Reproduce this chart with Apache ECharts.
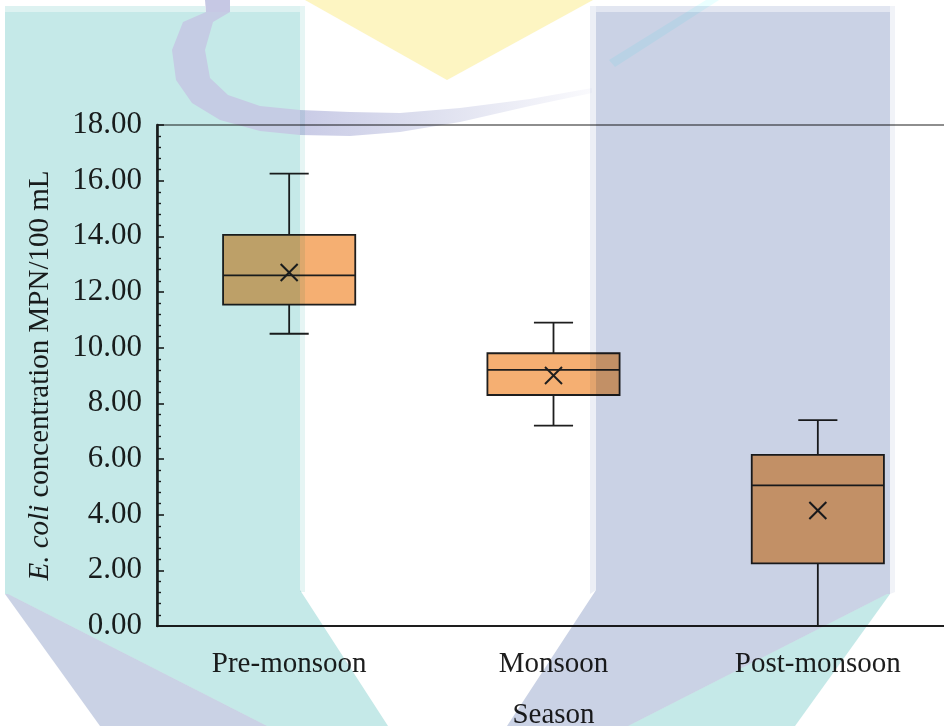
<!DOCTYPE html>
<html>
<head>
<meta charset="utf-8">
<script src="https://cdn.jsdelivr.net/npm/echarts@6/dist/echarts.min.js"></script>
<style>
  html, body { margin: 0; padding: 0; background: #ffffff; }
  #chart { width: 944px; height: 726px; }
</style>
</head>
<body>
<div id="chart"></div>
<script>
// Seasonal E. coli concentration (MPN/100 mL) — box summary per season
const seasons     = ['Pre-monsoon', 'Monsoon', 'Post-monsoon'];
const whiskerLow  = [10.5, 7.2, 0.0];
const q1          = [11.55, 8.3, 2.25];
const median      = [12.6, 9.2, 5.05];
const q3          = [14.05, 9.8, 6.15];
const whiskerHigh = [16.25, 10.9, 7.4];
const mean        = [12.7, 9.0, 4.15];

// value axis range and step for the tick labels (0.00 … 18.00)
const yMin = 0;
const yMax = 18;
const yStep = 2;

const INK = '#1e1e1e';
const FONT = '"Liberation Serif", "Times New Roman", serif';

const boxData = seasons.map((s, i) => [i, whiskerLow[i], q1[i], median[i], q3[i], whiskerHigh[i], mean[i]]);

function renderBox(params, api) {
  const idx = api.value(0);
  const band = api.size([1, 0])[0];
  const halfBox = band * 0.25;
  const halfCap = band * 0.074;
  const pt = k => api.coord([idx, api.value(k)]);
  const x = pt(1)[0];
  const yLo = pt(1)[1], yQ1 = pt(2)[1], yMed = pt(3)[1], yQ3 = pt(4)[1], yHi = pt(5)[1], yMean = pt(6)[1];
  const line = (x1, y1, x2, y2, w) => ({
    type: 'line',
    shape: { x1, y1, x2, y2 },
    style: { stroke: INK, lineWidth: w || 1.8 }
  });
  const m = 8.5;
  return {
    type: 'group',
    children: [
      line(x, yQ3, x, yHi),
      line(x - halfCap, yHi, x + halfCap, yHi),
      line(x, yQ1, x, yLo),
      line(x - halfCap, yLo, x + halfCap, yLo),
      {
        type: 'rect',
        shape: { x: x - halfBox, y: yQ3, width: halfBox * 2, height: yQ1 - yQ3 },
        style: { fill: '#F5AF72', stroke: INK, lineWidth: 1.8 }
      },
      line(x - halfBox, yMed, x + halfBox, yMed),
      line(x - m, yMean - m, x + m, yMean + m, 2),
      line(x - m, yMean + m, x + m, yMean - m, 2)
    ]
  };
}

// faint background emblem, laid over the plot with a multiply blend
const TEAL = '#C5E9E8';
const LAV = '#CAD2E5';
const YEL = '#FDF5C2';
function poly(points, fill) {
  return { type: 'polygon', z: 100, silent: true, shape: { points }, style: { fill, blend: 'multiply' } };
}
const emblem = [
  // left teal pillar with its slanted foot
  poly([[5, 12], [300, 12], [300, 590], [388, 726], [267, 726], [8, 594], [5, 594]], TEAL),
  poly([[5, 6], [205, 6], [206, 12], [5, 12]], '#DDF2F1'),
  poly([[230, 6], [300, 6], [300, 12], [230, 12]], '#DDF2F1'),
  poly([[300, 6], [305, 6], [305, 592], [300, 592]], '#E6F5F4'),
  // left lavender wedge
  poly([[5, 594], [8, 594], [267, 726], [100, 726]], LAV),
  // right lavender pillar with its slanted foot
  poly([[596, 12], [890, 12], [890, 594], [887, 594], [628, 726], [507, 726], [596, 590]], LAV),
  poly([[596, 6], [890, 6], [890, 12], [596, 12]], '#E2E6F1'),
  poly([[590, 6], [596, 6], [596, 590], [590, 594]], '#ECEFF6'),
  poly([[890, 6], [895, 6], [895, 592], [890, 594]], '#F1F3F8'),
  // right teal wedge
  poly([[887, 594], [890, 594], [795, 726], [628, 726]], TEAL),
  // yellow chevron
  poly([[305, 0], [593, 0], [447, 80]], YEL),
  // lavender swoosh: part over the teal pillar, then over white fading to the right
  poly([[205, 0], [230, 0], [230, 12], [206, 12]], '#C6C8E4'),
  poly([[206, 12], [230, 12], [213, 22], [205, 50], [210, 78], [228, 95], [260, 106], [300, 110],
        [300, 135], [260, 131], [220, 120], [192, 103], [176, 80], [172, 50], [183, 22]], '#FFE0FB'),
  {
    type: 'polygon', z: 100, silent: true,
    shape: { points: [[300, 110], [350, 112], [400, 113], [460, 108], [530, 99], [592, 88],
                      [592, 93], [530, 106], [460, 122], [400, 132], [350, 136], [300, 135]] },
    style: {
      blend: 'multiply',
      fill: new echarts.graphic.LinearGradient(0, 0, 1, 0, [
        { offset: 0, color: '#C9CBE6' },
        { offset: 0.45, color: '#DEE0EF' },
        { offset: 1, color: '#FAFAFD' }
      ])
    }
  },
  // thin teal stroke across the top of the right pillar
  poly([[609, 60], [615, 67], [719, 0], [706, 0]], '#EAFFFF')
];

const chart = echarts.init(document.getElementById('chart'), null, { renderer: 'canvas' });
chart.setOption({
  backgroundColor: '#ffffff',
  animation: false,
  grid: {
    left: 157, right: -6, top: 125, bottom: 100,
    show: true, borderColor: INK, borderWidth: 1.2, backgroundColor: 'transparent',
    outerBoundsMode: 'none'
  },
  xAxis: {
    type: 'category',
    data: seasons,
    boundaryGap: true,
    name: 'Season',
    nameLocation: 'middle',
    nameGap: 75,
    nameTextStyle: { fontFamily: FONT, fontSize: 29, color: INK },
    axisLine: { lineStyle: { color: INK, width: 2.2 } },
    axisTick: { show: false },
    axisLabel: { fontFamily: FONT, fontSize: 29, color: INK, margin: 24, interval: 0 },
    splitLine: { show: false }
  },
  yAxis: {
    type: 'value',
    min: yMin, max: yMax, interval: yStep,
    name: '{it|E. coli} concentration MPN/100 mL',
    nameLocation: 'middle',
    nameGap: 102,
    nameTextStyle: {
      fontFamily: FONT, fontSize: 29, color: INK,
      rich: {
        it: { fontFamily: FONT, fontSize: 29, color: INK, fontStyle: 'italic' }
      }
    },
    axisLine: { show: true, lineStyle: { color: INK, width: 2.6 } },
    axisTick: { show: true, inside: true, length: 7, lineStyle: { color: INK, width: 1.6 } },
    minorTick: { show: true, splitNumber: 5, length: 4, lineStyle: { color: INK, width: 1.4 } },
    axisLabel: { fontFamily: FONT, fontSize: 31, color: INK, margin: 15, formatter: v => v.toFixed(2) },
    splitLine: { show: false }
  },
  graphic: { elements: emblem },
  series: [{
    type: 'custom',
    renderItem: renderBox,
    data: boxData,
    encode: { x: 0, y: [1, 2, 3, 4, 5, 6] },
    z: 10
  }]
});
</script>
</body>
</html>
